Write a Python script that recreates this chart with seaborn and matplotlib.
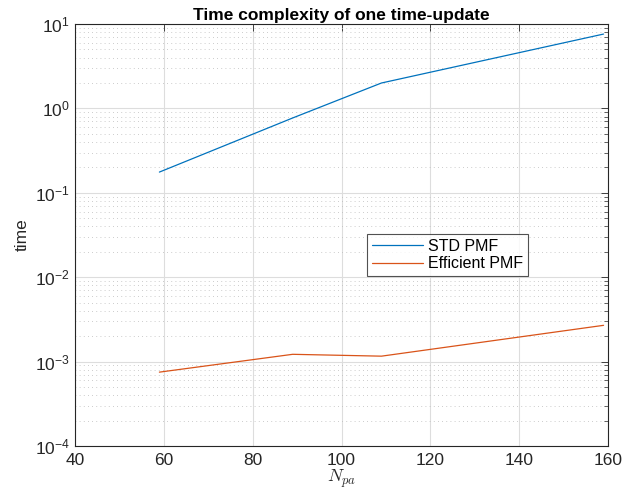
import numpy as np
import pandas as pd
import matplotlib
matplotlib.use("Agg")
import matplotlib.pyplot as plt
import seaborn as sns
from matplotlib.ticker import LogLocator, NullFormatter, FixedLocator

# Data
n_pa = [59, 89, 109, 159]
std_pmf = [0.176, 0.77, 2.0, 7.6]
eff_pmf = [7.5e-4, 1.22e-3, 1.16e-3, 2.69e-3]
series_names = ["STD PMF", "Efficient PMF"]
x_ticks = [40, 60, 80, 100, 120, 140, 160]

df = pd.DataFrame({
    "N": n_pa * 2,
    "time": std_pmf + eff_pmf,
    "series": [series_names[0]] * len(n_pa) + [series_names[1]] * len(n_pa),
})

sns.set_style("white")
plt.rcParams["font.family"] = ["Liberation Sans", "DejaVu Sans"]
plt.rcParams["mathtext.fontset"] = "cm"

fig = plt.figure(figsize=(6.41, 4.94), dpi=100)
ax = fig.add_axes([75 / 641, 1 - 446 / 494, (608 - 75) / 641, (446 - 24) / 494])

sns.lineplot(data=df, x="N", y="time", hue="series",
             palette={"STD PMF": "#0072BD", "Efficient PMF": "#D95319"},
             linewidth=0.9, ax=ax)

ax.set_yscale("log")
ax.set_xlim(40, 160)
ax.set_ylim(1e-4, 10)
ax.xaxis.set_major_locator(FixedLocator(x_ticks))
ax.yaxis.set_major_locator(LogLocator(base=10, numticks=10))
ax.yaxis.set_minor_locator(LogLocator(base=10, subs=np.arange(2, 10), numticks=20))
ax.yaxis.set_minor_formatter(NullFormatter())

ax.grid(True, which="major", color="#dddddd", linewidth=0.8, linestyle="-")
ax.grid(True, which="minor", axis="y", color="#bbbbbb", linewidth=0.6, linestyle=(0, (1, 4)))
ax.set_axisbelow(True)

for s in ax.spines.values():
    s.set_color("#262626")
    s.set_linewidth(0.8)

ax.tick_params(axis="both", which="both", direction="in", top=True, right=True,
               colors="#262626", labelsize=12.5)
ax.tick_params(which="major", length=5, width=0.6)
ax.tick_params(which="minor", length=3, width=0.5)
ax.tick_params(axis="x", which="major", pad=5)

ax.set_xlabel(r"$N_{pa}$", fontsize=13, color="#262626", labelpad=0)
ax.set_ylabel("time", fontsize=12.5, color="#262626")
ax.set_title("Time complexity of one time-update", fontsize=12.5, fontweight="bold",
             pad=3, color="#000000")

leg = ax.legend(loc="upper left", bbox_to_anchor=((367 - 75) / 533, 1 - (234 - 24) / 422),
                frameon=True, fancybox=False, fontsize=11.5, handlelength=3.2,
                borderpad=0.3, labelspacing=0.15, handletextpad=0.3, borderaxespad=0)
leg.get_frame().set_edgecolor("#262626")
leg.get_frame().set_linewidth(0.8)
for t in leg.get_texts():
    t.set_color("#000000")

fig.savefig("out.png", dpi=100)
